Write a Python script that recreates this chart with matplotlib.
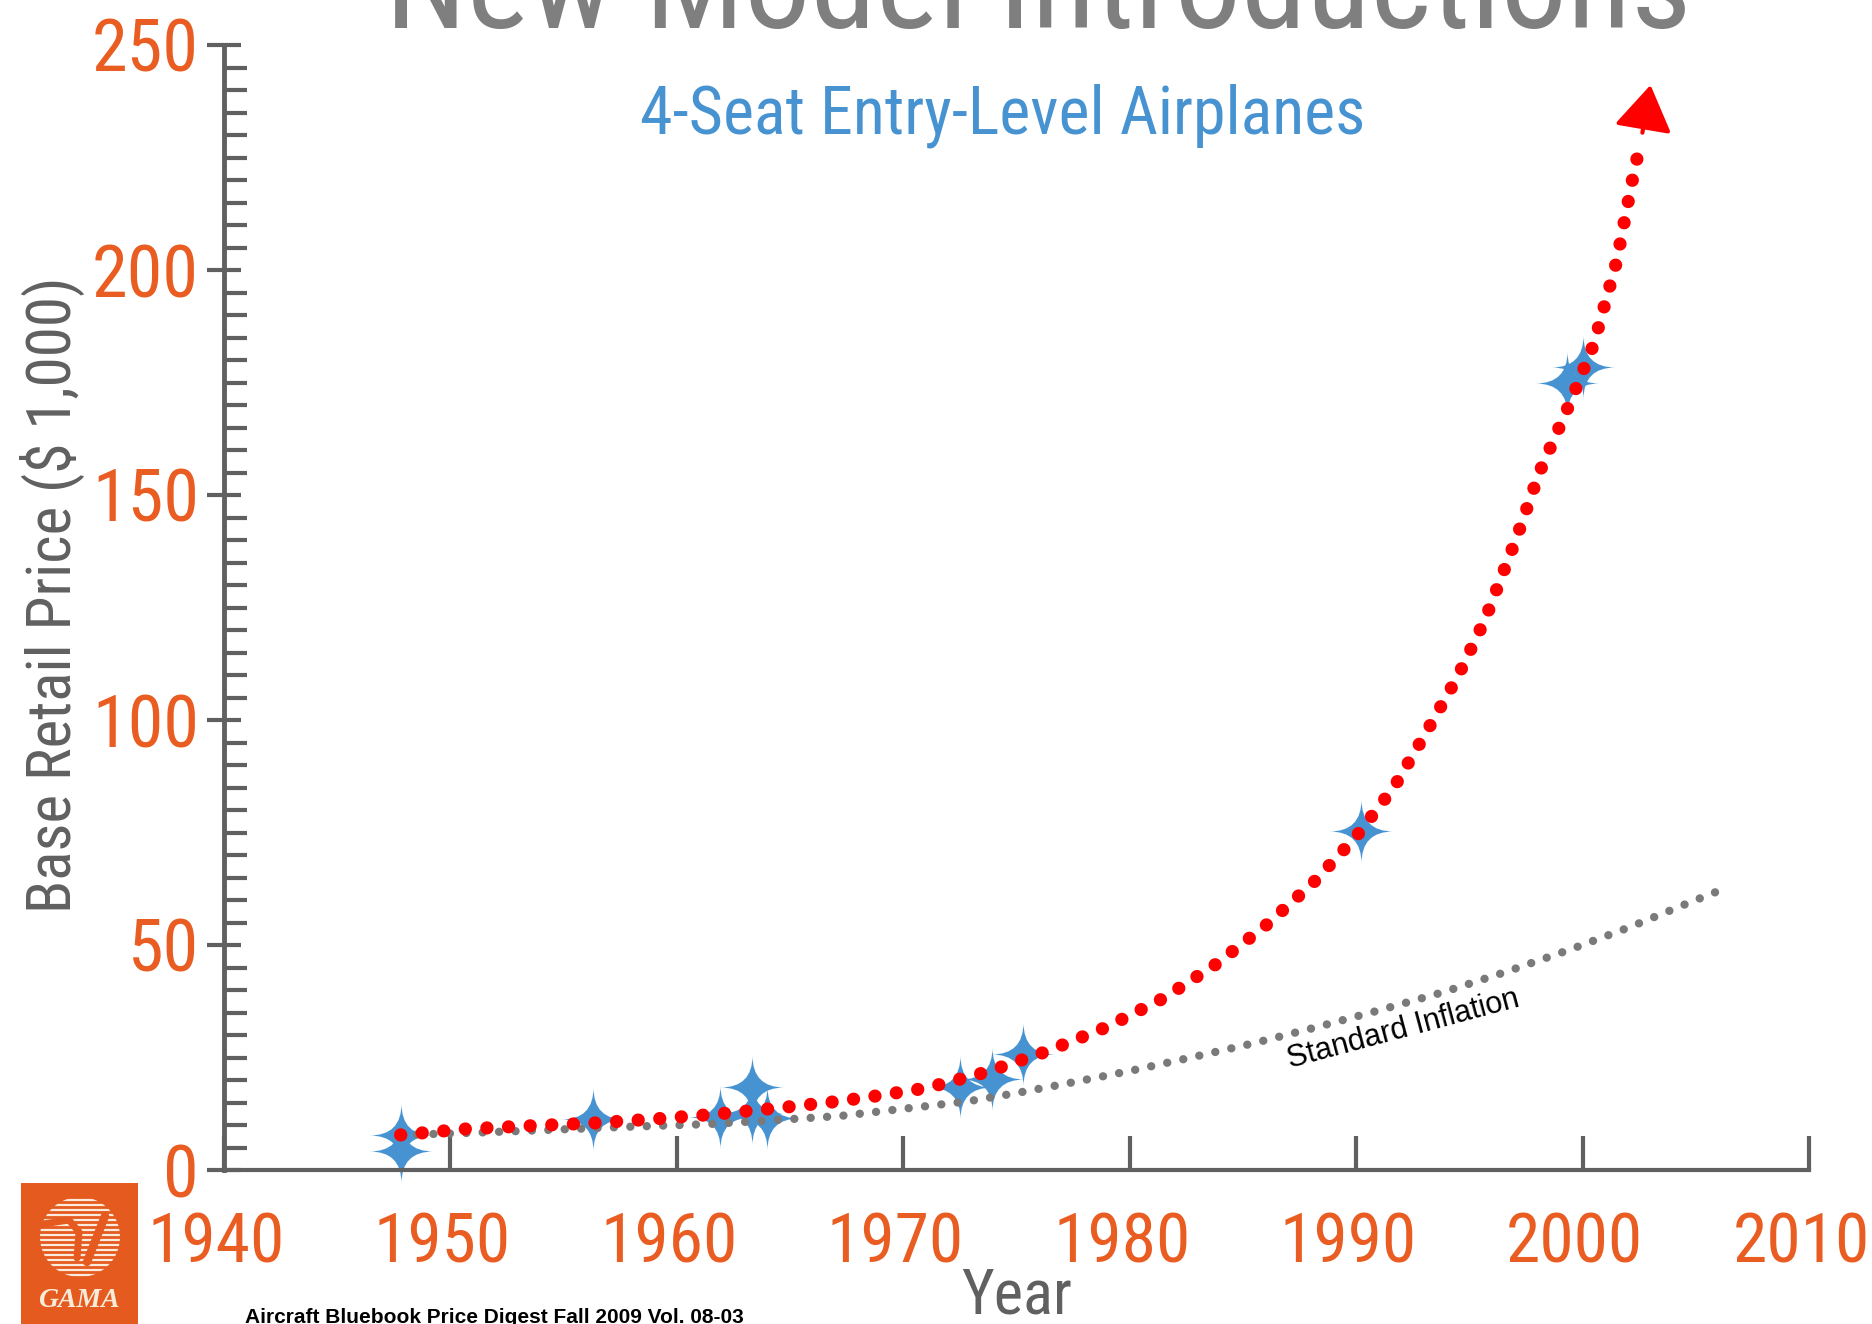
import matplotlib
matplotlib.use("Agg")
import matplotlib.pyplot as plt
from matplotlib import font_manager
from matplotlib.path import Path
from matplotlib.patches import Rectangle, Circle
from matplotlib.transforms import ScaledTranslation
import numpy as np

# new model introductions (year, base price in $1000)
model_year = [1947.8, 1947.8, 1956.3, 1961.9, 1963.3, 1963.3, 1964.0,
              1972.5, 1973.9, 1975.3, 1990.2, 1999.3, 2000.0]
model_price = [7.8, 4.2, 11.3, 11.8, 18.4, 12.7, 11.6,
               18.4, 20.2, 25.8, 75.3, 174.9, 178.4]

# red trend curve
trend_year = [1947.8, 1950.6, 1953.4, 1956.2, 1958.9, 1961.7, 1964.5, 1967.2,
              1969.0, 1971.0, 1973.7, 1976.3, 1979.0, 1981.5, 1983.8, 1986.0,
              1988.1, 1990.0, 1991.7, 1993.1, 1994.5, 1995.7, 1997.1, 1998.1,
              1999.5, 2000.5, 2001.5, 2002.2, 2002.6]
trend_price = [7.8, 9.1, 9.8, 10.4, 11.3, 12.4, 13.8, 15.3,
               16.6, 18.2, 21.8, 26.3, 31.8, 38.2, 45.7, 54.3,
               63.8, 74.1, 85.3, 97.3, 109.8, 122.4, 140.7, 155.1,
               171.1, 183.6, 201.8, 220.0, 229.3]
trend_tip = (2003.0, 241.1)

# standard inflation curve
infl_year = [1947.8, 1950.6, 1954.3, 1957.8, 1961.4, 1965.0, 1967.2, 1970.7,
             1972.9, 1975.0, 1977.1, 1980.0, 1982.8, 1985.5, 1988.3, 1991.1,
             1993.9, 1996.6, 1999.4, 2002.1, 2004.8, 2006.1]
infl_price = [7.8, 8.2, 8.9, 9.6, 10.2, 11.3, 12.0, 14.0,
              15.3, 17.1, 19.1, 22.0, 25.1, 28.2, 31.8, 35.6,
              39.6, 44.0, 48.9, 54.0, 59.6, 62.2]

x_ticks = list(range(1940, 2011, 10))
y_ticks = list(range(0, 251, 50))

# narrow sans for the labels (original uses Arial Narrow)
avail = {f.name for f in font_manager.fontManager.ttflist}
narrow = 'Liberation Sans'
for name in ['Liberation Sans Narrow', 'Arial Narrow', 'Roboto Condensed',
             'Archivo Narrow', 'PT Sans Narrow', 'IBM Plex Sans Condensed']:
    if name in avail:
        narrow = name
        break
narrow_family = [narrow, 'Liberation Sans', 'DejaVu Sans']

orange = '#E95D22'
axis_gray = '#606060'
blue = '#4793D1'

fig = plt.figure(figsize=(18.72, 13.24), dpi=100)
ax = fig.add_axes([224 / 1872, 1 - 1170 / 1324, (1809 - 224) / 1872, (1170 - 45) / 1324])

# four pointed star marker
verts = [(0, 1), (0, 0), (1, 0), (0, 0), (0, -1), (0, 0), (-1, 0), (0, 0), (0, 1), (0, 1)]
codes = [Path.MOVETO, Path.CURVE3, Path.LINETO, Path.CURVE3, Path.LINETO,
         Path.CURVE3, Path.LINETO, Path.CURVE3, Path.LINETO, Path.CLOSEPOLY]
star = Path(verts, codes)

ax.plot(model_year, model_price, ls='none', marker=star, ms=46, color=blue,
        mec='none', zorder=2, clip_on=False)
ax.plot(infl_year, infl_price, color='#7A7A7A', lw=6, dashes=(0.01, 1.96),
        dash_capstyle='round', zorder=3)
ax.plot(trend_year, trend_price, color='red', lw=9.5, dashes=(0.01, 1.63),
        dash_capstyle='round', zorder=4)
ax.plot(trend_year[0], trend_price[0], 'o', mfc='none', mec='red', ms=7, mew=1.2, zorder=5)
ax.annotate('', xy=trend_tip, xytext=(trend_year[-1], trend_price[-1]),
            arrowprops=dict(arrowstyle='-|>,head_length=2.8,head_width=1.8',
                            color='red', lw=3, shrinkA=4, shrinkB=0), zorder=5)

ax.text(1992.1, 31.3, 'Standard Inflation', rotation=15, ha='center', va='center',
        fontsize=22, family='Liberation Sans', color='black')

ax.set_xlim(1940, 2010)
ax.set_ylim(0, 250)
ax.set_xticks(x_ticks)
ax.set_yticks(y_ticks)
ax.set_yticks(np.arange(0, 251, 5), minor=True)
ax.set_xticklabels([str(t) for t in x_ticks], fontsize=50, family=narrow_family, color=orange)
ax.set_yticklabels([str(t) for t in y_ticks], fontsize=52, family=narrow_family, color=orange)
ax.tick_params(axis='y', which='major', direction='inout', length=24, width=3,
               color=axis_gray, pad=6)
ax.tick_params(axis='y', which='minor', direction='in', length=16.5, width=3,
               color=axis_gray)
ax.tick_params(axis='x', which='major', direction='in', length=24.5, width=3,
               color=axis_gray, pad=29)
shift = ScaledTranslation(-8 / 100, 0, fig.dpi_scale_trans)
for lab in ax.get_xticklabels():
    lab.set_transform(lab.get_transform() + shift)
for s in ['top', 'right']:
    ax.spines[s].set_visible(False)
ax.spines['left'].set_color(axis_gray)
ax.spines['left'].set_linewidth(3.5)
ax.spines['bottom'].set_color(axis_gray)
ax.spines['bottom'].set_linewidth(3)
ax.patch.set_alpha(0)

fig.text(1038 / 1872, 1 - 28 / 1324, 'New Model Introductions', ha='center',
         va='baseline', fontsize=95, family=narrow_family, color='#7F7F7F')
fig.text(1003 / 1872, 1 - 133 / 1324, '4-Seat Entry-Level Airplanes', ha='center',
         va='baseline', fontsize=47.5, family=narrow_family, color=blue)
fig.text(52 / 1872, 1 - 595 / 1324, 'Base Retail Price ($ 1,000)', rotation=90,
         ha='center', va='center', fontsize=44, family=narrow_family, color=axis_gray)
fig.text(1017 / 1872, 1 - 1313 / 1324, 'Year', ha='center', va='baseline',
         fontsize=45, family=narrow_family, color=axis_gray)
fig.text(245 / 1872, 0.001, 'Aircraft Bluebook Price Digest Fall 2009 Vol. 08-03',
         ha='left', va='baseline', fontsize=15, fontweight='bold',
         family='Liberation Sans', color='black')

# GAMA logo
lax = fig.add_axes([21 / 1872, 0, 117 / 1872, 141 / 1324])
lax.set_xlim(0, 117)
lax.set_ylim(0, 141)
lax.set_axis_off()
lax.add_patch(Rectangle((0, 0), 117, 141, color='#E55B1F'))
circ = Circle((59, 87), 40, transform=lax.transData)
for yy in np.arange(49, 128, 5):
    ln, = lax.plot([15, 105], [yy, yy], color='#FBEBDD', lw=1.6)
    ln.set_clip_path(circ)
lax.plot([22, 48, 58, 56], [100, 104, 92, 66], color='#E55B1F', lw=5, solid_capstyle='round')
lax.plot([66, 84], [62, 108], color='#E55B1F', lw=6, solid_capstyle='round')
lax.text(58, 17, 'GAMA', ha='center', va='baseline', fontsize=20, fontweight='bold',
         fontstyle='italic', family='Liberation Serif', color='#F8EBDA')

fig.savefig('out.png', dpi=100)
